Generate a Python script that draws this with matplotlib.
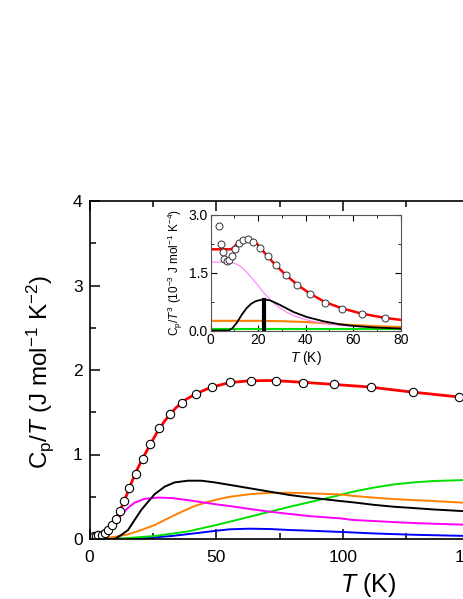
import numpy as np
import matplotlib
matplotlib.use('Agg')
import matplotlib.pyplot as plt
from matplotlib.ticker import MultipleLocator

plt.rcParams['font.family'] = ['Liberation Sans', 'DejaVu Sans']
plt.rcParams['mathtext.fontset'] = 'custom'
plt.rcParams['mathtext.rm'] = 'Liberation Sans'
plt.rcParams['mathtext.it'] = 'Liberation Sans:italic'

# ---- main panel: Cp/T (J mol^-1 K^-2) ----
T_data = [1.7, 2.4, 3.5, 4.8, 6.1, 7.4, 8.8, 10.3, 11.9, 13.7, 15.7, 18.2, 21.0, 24.0,
          27.5, 31.8, 36.5, 41.9, 48.4, 55.4, 63.7, 73.5, 84.4, 96.6, 111.0, 127.5, 146.0]
cp_data = [0.035, 0.039, 0.044, 0.047, 0.067, 0.107, 0.166, 0.237, 0.331, 0.453, 0.607, 0.769,
           0.95, 1.124, 1.31, 1.479, 1.613, 1.72, 1.795, 1.854, 1.874, 1.874, 1.85, 1.834,
           1.80, 1.736, 1.677]

T_fit = [0, 2, 4, 6, 8, 10, 12, 14, 16, 18, 20, 22, 24, 27, 30, 34, 38, 42, 48, 55, 63,
         72, 84, 96, 110, 127, 146, 160]
cp_fit = [0, 0.017, 0.035, 0.06, 0.12, 0.22, 0.335, 0.47, 0.625, 0.77, 0.895, 1.01, 1.12,
          1.28, 1.41, 1.55, 1.65, 1.72, 1.795, 1.85, 1.872, 1.876, 1.855, 1.83, 1.8, 1.74,
          1.68, 1.64]

T_black = [0, 10, 12.5, 15.2, 17.8, 20.4, 23.1, 25.7, 29.7, 33.6, 38.9, 44.1, 49.4, 55.4,
           63.3, 71.2, 79.1, 87, 98.8, 104, 112, 120, 128, 135.5, 147.4, 160]
cp_black = [0, 0, 0.047, 0.106, 0.225, 0.343, 0.44, 0.53, 0.62, 0.67, 0.69, 0.69, 0.67,
            0.64, 0.60, 0.56, 0.52, 0.49, 0.45, 0.434, 0.405, 0.382, 0.366, 0.35, 0.33, 0.31]

T_mag = [0, 2, 4.7, 7.3, 9.9, 12.5, 15.2, 17.8, 21.8, 27, 32.3, 38.9, 45.5, 50, 55.4, 63.3,
         71.2, 79.1, 87, 98.8, 104, 112, 120, 128, 135.5, 147.4, 160]
cp_mag = [0, 0.008, 0.045, 0.1, 0.18, 0.28, 0.37, 0.43, 0.476, 0.49, 0.485, 0.46, 0.43,
          0.41, 0.39, 0.355, 0.323, 0.296, 0.27, 0.245, 0.225, 0.213, 0.2, 0.189, 0.181,
          0.17, 0.16]

T_orange = [0, 5, 9.9, 15.2, 20.4, 25.7, 31, 36.2, 41.5, 46.8, 50.7, 55.4, 63.3, 71.2, 79.1,
            87, 98.8, 104, 112, 120, 128, 135.5, 147.4, 160]
cp_orange = [0, 0.006, 0.025, 0.055, 0.106, 0.165, 0.245, 0.32, 0.39, 0.44, 0.47, 0.50,
             0.53, 0.547, 0.547, 0.54, 0.528, 0.51, 0.49, 0.473, 0.46, 0.45, 0.43, 0.41]

T_green = [0, 12.5, 25.7, 38.9, 50.7, 55.4, 63.3, 71.2, 79.1, 87, 96.1, 104, 112, 120, 128,
           135.5, 147.4, 160]
cp_green = [0, 0.006, 0.035, 0.09, 0.17, 0.205, 0.264, 0.323, 0.382, 0.437, 0.5, 0.56,
            0.607, 0.646, 0.67, 0.686, 0.697, 0.71]

T_blue = [0, 19, 32.3, 41.5, 50.7, 55.4, 63.3, 71.2, 79.1, 87, 98.8, 104, 112, 120, 128,
          135.5, 147.4, 160]
cp_blue = [0, 0.004, 0.035, 0.067, 0.1, 0.115, 0.122, 0.118, 0.106, 0.098, 0.084, 0.077,
           0.066, 0.058, 0.05, 0.045, 0.037, 0.03]

# ---- inset: Cp/T^3 (10^-3 J mol^-1 K^-4) ----
Ti_data = [3.6, 4.2, 5.0, 5.7, 6.7, 7.8, 8.8, 10.4, 12.0, 13.7, 15.8, 17.9, 20.8, 24.0,
           27.5, 31.7, 36.5, 41.9, 48.3, 55.4, 63.7, 73.5]
ci_data = [2.71, 2.25, 2.02, 1.84, 1.80, 1.82, 1.93, 2.12, 2.27, 2.34, 2.36, 2.30, 2.14,
           1.93, 1.69, 1.44, 1.18, 0.94, 0.72, 0.565, 0.43, 0.32]

Ti_fit = [0, 5, 8.5, 9.5, 10.9, 12.3, 14.4, 16.5, 18.7, 20.8, 23.6, 27.2, 31.4, 36.3, 41.9,
          48.3, 55.4, 63.7, 73.5, 80]
ci_fit = [2.10, 2.10, 2.10, 2.14, 2.23, 2.31, 2.37, 2.36, 2.30, 2.15, 1.94, 1.70, 1.45,
          1.19, 0.95, 0.73, 0.57, 0.435, 0.325, 0.275]

Ti_mag = [0, 5, 8, 10, 12.3, 15, 18, 21, 23, 25, 28, 32, 36, 40, 45, 50, 55, 60, 70, 80]
ci_mag = [1.77, 1.77, 1.76, 1.74, 1.67, 1.52, 1.31, 1.08, 0.93, 0.8, 0.63, 0.47, 0.36,
          0.28, 0.21, 0.165, 0.13, 0.105, 0.07, 0.05]

Ti_black = [0, 7.5, 9, 11, 13, 15, 17, 19, 21, 22.5, 25, 29.2, 34.8, 40.4, 47.4, 54.4, 60,
            68.5, 80]
ci_black = [0, 0, 0.05, 0.2, 0.4, 0.57, 0.69, 0.76, 0.79, 0.8, 0.78, 0.66, 0.48, 0.35,
            0.24, 0.16, 0.12, 0.08, 0.05]

Ti_orange = [0, 10, 20, 30, 40, 50, 60, 70, 80]
ci_orange = [0.25, 0.25, 0.25, 0.24, 0.22, 0.18, 0.14, 0.11, 0.09]

Ti_green = [0, 80]
ci_green = [0.04, 0.04]

T_peak = 22.5
c_peak = 0.8

RED, ORANGE, MAGENTA, GREEN, BLUE = '#ff0000', '#ff8000', '#ff00ff', '#00e000', '#0000ff'

fig = plt.figure(figsize=(4.63, 5.99), dpi=100)
W, H = 463, 599

# main axes runs past the right edge of the figure (cut like the original)
x0, x1, y_top, y_bot = 89.5, 89.5 + 4 * 126.7, 201, 539
ax = fig.add_axes([x0 / W, 1 - y_bot / H, (x1 - x0) / W, (y_bot - y_top) / H])

ax.plot(T_blue, cp_blue, color=BLUE, lw=1.4)
ax.plot(T_green, cp_green, color=GREEN, lw=1.4)
ax.plot(T_orange, cp_orange, color=ORANGE, lw=1.4)
ax.plot(T_mag, cp_mag, color=MAGENTA, lw=1.4)
ax.plot(T_black, cp_black, color='black', lw=1.4)
ax.plot(T_fit, cp_fit, color=RED, lw=2.0)
ax.plot(T_data, cp_data, 'o', mfc='white', mec='black', ms=6, mew=0.8)

ax.set_xlim(0, 200); ax.set_ylim(0, 4)
ax.xaxis.set_major_locator(MultipleLocator(50)); ax.xaxis.set_minor_locator(MultipleLocator(25))
ax.yaxis.set_major_locator(MultipleLocator(1)); ax.yaxis.set_minor_locator(MultipleLocator(0.5))
ax.tick_params(which='both', direction='in', top=True, right=True, width=1.1, labelsize=12.5)
ax.tick_params(which='major', length=7)
ax.tick_params(which='minor', length=4)
ax.tick_params(axis='x', pad=8)
ax.tick_params(axis='y', pad=5)
for s in ax.spines.values():
    s.set_linewidth(1.2)

fig.text(40 / W, 1 - 372 / H, r'C$_\mathrm{p}$/$T$ (J mol$^{-1}$ K$^{-2}$)',
         rotation=90, ha='center', va='center', fontsize=17.5)
fig.text(368.5 / W, 1 - 585 / H, r'$T$ (K)', ha='center', va='center', fontsize=18)

# inset
ix0, ix1, iy_top, iy_bot = 210.7, 400.7, 214.5, 330.5
axi = fig.add_axes([ix0 / W, 1 - iy_bot / H, (ix1 - ix0) / W, (iy_bot - iy_top) / H])
axi.plot(Ti_green, ci_green, color=GREEN, lw=1.5)
axi.plot(Ti_orange, ci_orange, color=ORANGE, lw=1.5)
axi.plot(Ti_mag, ci_mag, color='#ff80ff', lw=0.8)
axi.plot(Ti_black, ci_black, color='black', lw=1.3)
axi.plot([T_peak, T_peak], [0, c_peak], color='black', lw=3)
axi.plot(Ti_fit, ci_fit, color=RED, lw=1.8)
axi.plot(Ti_data, ci_data, 'o', mfc='white', mec='#333333', ms=5, mew=0.7)

axi.set_xlim(0, 80); axi.set_ylim(0, 3)
axi.xaxis.set_major_locator(MultipleLocator(20)); axi.xaxis.set_minor_locator(MultipleLocator(10))
axi.yaxis.set_major_locator(MultipleLocator(1.5)); axi.yaxis.set_minor_locator(MultipleLocator(0.75))
axi.yaxis.set_major_formatter(plt.FormatStrFormatter('%.1f'))
axi.tick_params(which='both', direction='in', top=True, right=True, labelsize=10, pad=2)
axi.tick_params(which='major', length=4)
axi.tick_params(which='minor', length=2)
for s in axi.spines.values():
    s.set_linewidth(0.8); s.set_color('#555555')
axi.set_xlabel(r'$T$ (K)', fontsize=10, labelpad=1)
axi.set_ylabel(r'C$_\mathrm{p}$/$T^3$ (10$^{-3}$ J mol$^{-1}$ K$^{-4}$)', fontsize=8.5, labelpad=3)

fig.savefig('out.png', dpi=100)
